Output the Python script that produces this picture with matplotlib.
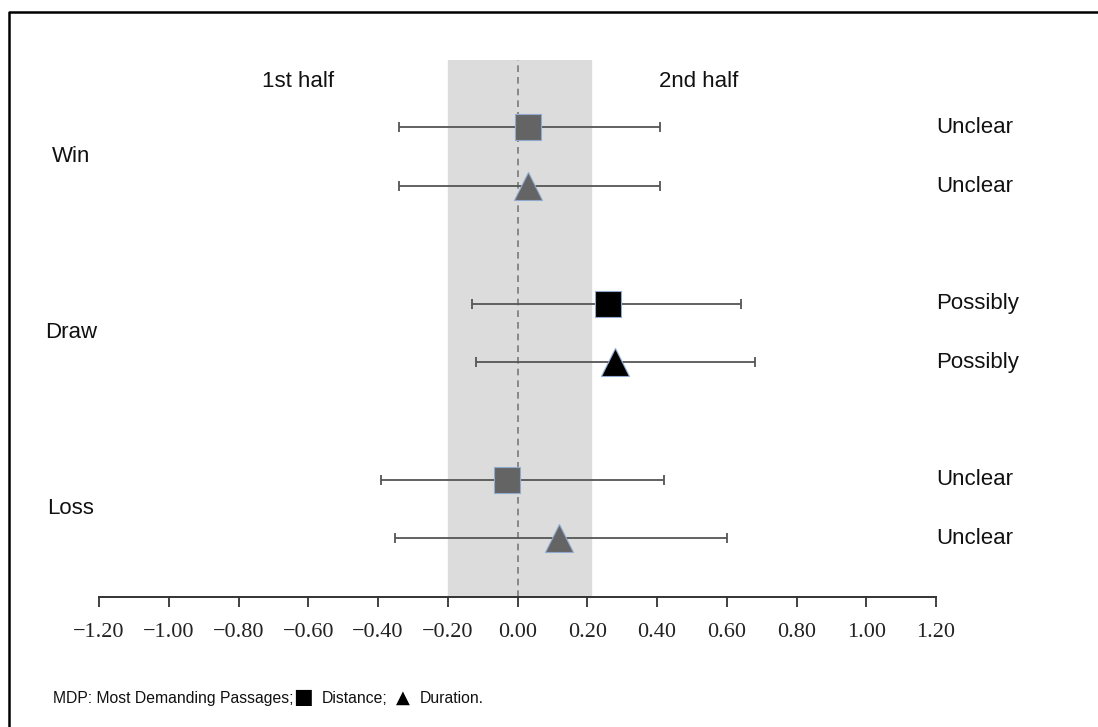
import matplotlib.pyplot as plt
import matplotlib.transforms as mtransforms
from matplotlib.lines import Line2D

# data
groups = ["Win", "Draw", "Loss"]
dist_mean = [0.03, 0.26, -0.03]
dist_low = [-0.34, -0.13, -0.39]
dist_high = [0.41, 0.64, 0.42]
dur_mean = [0.03, 0.28, 0.12]
dur_low = [-0.34, -0.12, -0.35]
dur_high = [0.41, 0.68, 0.60]
dist_label = ["Unclear", "Possibly", "Unclear"]
dur_label = ["Unclear", "Possibly", "Unclear"]
trivial_zone = (-0.20, 0.21)
tick_values = [-1.20, -1.00, -0.80, -0.60, -0.40, -0.20, 0.00, 0.20, 0.40, 0.60, 0.80, 1.00, 1.20]

W, H = 1098, 727
fig = plt.figure(figsize=(W / 100, H / 100), dpi=100)
ax = fig.add_axes([99 / W, (H - 597) / H, (936 - 99) / W, (597 - 60) / H])

sans = ["Liberation Sans", "DejaVu Sans"]

# row positions: two rows per group, a bigger gap between groups
y_dist = [g * 3 for g in range(len(groups))]
y_dur = [g * 3 + 1 for g in range(len(groups))]

ax.axvspan(trivial_zone[0], trivial_zone[1], color="#dcdcdc", zorder=0)
ax.axvline(0, color="#7a7a7a", lw=1.2, ls=(0, (4, 3)), zorder=1)

bar_kw = dict(fmt="none", ecolor="#555555", elinewidth=1.3, capsize=3.5, capthick=1.3, zorder=2)
ax.errorbar(dist_mean, y_dist,
            xerr=[[m - lo for m, lo in zip(dist_mean, dist_low)],
                  [hi - m for m, hi in zip(dist_mean, dist_high)]], **bar_kw)
ax.errorbar(dur_mean, y_dur,
            xerr=[[m - lo for m, lo in zip(dur_mean, dur_low)],
                  [hi - m for m, hi in zip(dur_mean, dur_high)]], **bar_kw)

for i, g in enumerate(groups):
    face = "#000000" if g == "Draw" else "#646464"
    ax.plot(dist_mean[i], y_dist[i], marker="s", ms=19, mfc=face,
            mec="#8fa9cf", mew=0.8, zorder=3)
    ax.plot(dur_mean[i], y_dur[i], marker="^", ms=19.5, mfc=face,
            mec="#8fa9cf", mew=0.8, zorder=3)
    ax.text(1.2, y_dist[i], dist_label[i], ha="left", va="center",
            fontsize=16, family=sans, color="#111111")
    ax.text(1.2, y_dur[i], dur_label[i], ha="left", va="center",
            fontsize=16, family=sans, color="#111111")

# group labels on the left
trans = mtransforms.blended_transform_factory(fig.transFigure, ax.transData)
for i, g in enumerate(groups):
    ax.text(71 / W, y_dist[i] + 0.5, g, transform=trans, ha="center", va="center",
            fontsize=16, family=sans, color="#111111")

ax.text(-0.63, -0.78, "1st half", ha="center", va="center", fontsize=16,
        family=sans, color="#111111")
ax.text(0.52, -0.78, "2nd half", ha="center", va="center", fontsize=16,
        family=sans, color="#111111")

ax.set_xlim(-1.2, 1.2)
ax.set_ylim(8.0, -1.15)
ax.set_xticks(tick_values)
ax.set_xticklabels([f"{v:.2f}".replace("-", "\u2212") for v in tick_values],
                   family="Liberation Serif", fontsize=16, color="#222222")
ax.tick_params(axis="x", direction="out", length=7, width=1.3, color="#333333", pad=12)
ax.set_yticks([])
for side in ["top", "right", "left"]:
    ax.spines[side].set_visible(False)
ax.spines["bottom"].set_color("#333333")
ax.spines["bottom"].set_linewidth(1.4)
ax.patch.set_alpha(0)

# footnote, symbols drawn a bit larger like in the original
note_y = 1 - 703 / H
fig.text(53 / W, note_y, "MDP: Most Demanding Passages;", ha="left", va="baseline",
         fontsize=11.3, family=sans, color="#111111")
fig.text(293 / W, note_y, "\u25a0", ha="left", va="baseline", fontsize=15,
         family="DejaVu Sans", color="black")
fig.text(322 / W, note_y, "Distance;", ha="left", va="baseline",
         fontsize=11.3, family=sans, color="#111111")
fig.text(396 / W, note_y, "\u25b2", ha="left", va="baseline", fontsize=13,
         family="DejaVu Sans", color="black")
fig.text(420 / W, note_y, "Duration.", ha="left", va="baseline",
         fontsize=11.3, family=sans, color="#111111")

# outer frame (only left and top edges fall inside the picture)
fig.add_artist(Line2D([9 / W, 9 / W, 1.0], [0.0, 1 - 12 / H, 1 - 12 / H],
                      transform=fig.transFigure, color="black", lw=1.8))

fig.savefig("out.png", dpi=100)
